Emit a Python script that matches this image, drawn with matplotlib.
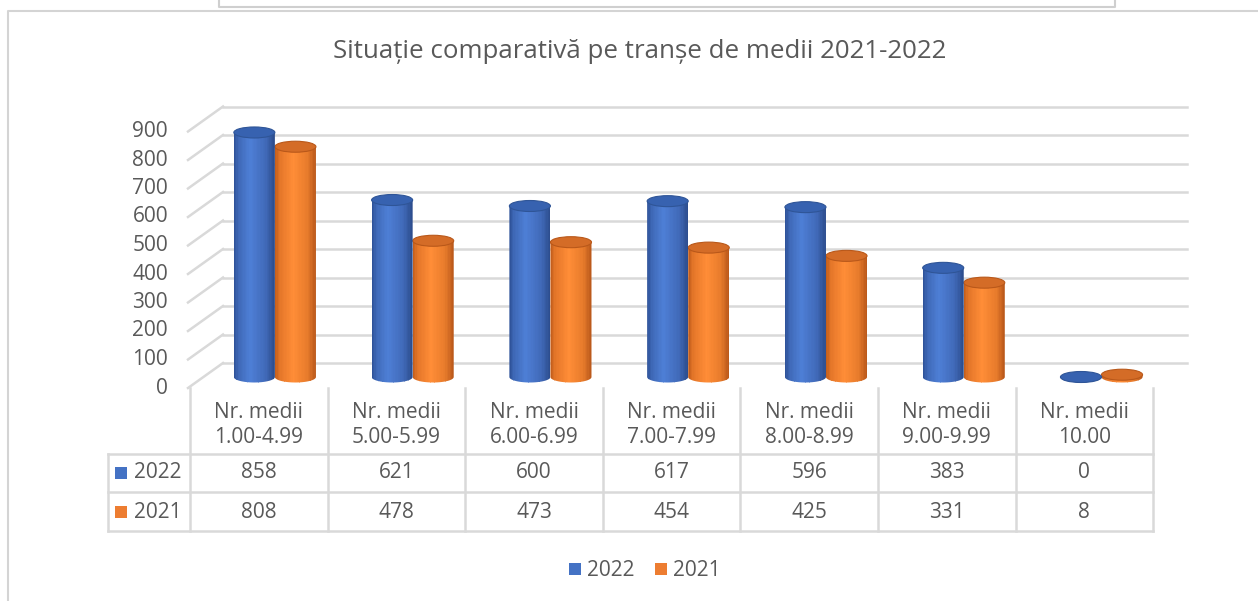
import numpy as np
import matplotlib.pyplot as plt
from matplotlib.patches import Ellipse, Polygon, Rectangle, Patch
from matplotlib.lines import Line2D
from matplotlib.colors import LinearSegmentedColormap

plt.rcParams['font.family'] = ['Open Sans', 'DejaVu Sans']

# --- data ---
categories = ["Nr. medii\n1.00-4.99", "Nr. medii\n5.00-5.99", "Nr. medii\n6.00-6.99",
              "Nr. medii\n7.00-7.99", "Nr. medii\n8.00-8.99", "Nr. medii\n9.00-9.99",
              "Nr. medii\n10.00"]
values_2022 = [858, 621, 600, 617, 596, 383, 0]
values_2021 = [808, 478, 473, 454, 425, 331, 8]
series_names = ["2022", "2021"]
y_ticks = [0, 100, 200, 300, 400, 500, 600, 700, 800, 900]

TXT = "#595959"
GRID = "#D9D9D9"
BLUE = "#4472C4"
ORANGE = "#ED7D31"

W, H = 1258, 601
fig = plt.figure(figsize=(W / 100, H / 100), dpi=100)


def fx(x):
    return x / W


def fy(y):
    return 1 - y / H


# outer frames (screenshot borders)
fig.add_artist(Line2D([fx(8), fx(8), fx(1258)], [fy(601), fy(11), fy(11)], color="#D4D4D4", lw=1.5))
fig.add_artist(Line2D([fx(219), fx(219), fx(1115), fx(1115)], [fy(0), fy(7), fy(7), fy(0)],
                      color="#CFCFCF", lw=1.5))

fig.text(fx(640), fy(51), "Situație comparativă pe tranșe de medii 2021-2022",
         ha="center", va="center", fontsize=18.6, color=TXT)

# --- bar plane axes (category index / value) ---
left_px, right_px, bot_px, top_px = 206, 1170.4, 377, 120.5
ax = fig.add_axes([fx(left_px), fy(bot_px), (right_px - left_px) / W, (bot_px - top_px) / H])
n = len(categories)
ax.set_xlim(-0.5, n - 0.5)
ax.set_ylim(0, 900)
ax.axis("off")
ux = n / (right_px - left_px)
uy = 900 / (bot_px - top_px)

back = (17 * ux, 14 * uy)
front = (-18 * ux, -11 * uy)

# back wall gridlines + side diagonals + tick labels
for v in y_ticks:
    ax.plot([-0.5 + back[0], n - 0.5 + back[0]], [v + back[1]] * 2, color=GRID, lw=1.8,
            clip_on=False, zorder=0)
    ax.plot([-0.5 + front[0], -0.5 + back[0]], [v + front[1], v + back[1]], color=GRID, lw=1.8,
            clip_on=False, zorder=0)
    ax.text(-0.5 + front[0] - 20 * ux, v + front[1], str(v), ha="right", va="center",
            fontsize=15, color=TXT)

blue_cmap = LinearSegmentedColormap.from_list(
    "b", [(0, "#2D5096"), (0.12, "#3F69B8"), (0.4, "#4E7FD6"), (0.78, "#4069B8"), (1, "#2C4C8C")])
orange_cmap = LinearSegmentedColormap.from_list(
    "o", [(0, "#C05C1B"), (0.12, "#E47629"), (0.45, "#FF8D37"), (0.8, "#E77B2B"), (1, "#B8571A")])

w = 0.298
eh = 11 * uy
n_strips = 30


def cylinder(c, v, cmap, top_col, rim_col):
    theta = np.linspace(np.pi, 2 * np.pi, 40)
    arc = np.column_stack([c + w / 2 * np.cos(theta), eh / 2 * np.sin(theta)])
    verts = np.vstack([[[c - w / 2, v]], arc, [[c + w / 2, v]]])
    outline = Polygon(verts, closed=True, transform=ax.transData)
    t = (np.arange(n_strips) + 0.5) / n_strips
    xs = c - w / 2 + t * w
    bars = ax.bar(xs, v + eh / 2, bottom=-eh / 2, width=w / n_strips * 1.1,
                  color=cmap(t), linewidth=0, zorder=2)
    for r in bars:
        r.set_clip_path(outline)
        r.set_clip_box(None)
    ax.add_patch(Ellipse((c, v), w, eh, facecolor=top_col, edgecolor=rim_col, lw=0.8,
                         clip_on=False, zorder=2))


for i in range(n):
    cylinder(i + w / 2, values_2021[i], orange_cmap, "#D46C27", "#B9581A")
    cylinder(i - w / 2, values_2022[i], blue_cmap, "#3762B0", "#2F5597")

# --- data table ---
col_x = [190 + 137.6 * k for k in range(n + 1)]
row_y = [454, 492, 531]
for x in col_x:
    fig.add_artist(Line2D([fx(x), fx(x)], [fy(388), fy(531)], color=GRID, lw=1.8))
fig.add_artist(Line2D([fx(108), fx(108)], [fy(454), fy(531)], color=GRID, lw=1.8))
for y in row_y:
    fig.add_artist(Line2D([fx(108), fx(col_x[-1])], [fy(y), fy(y)], color=GRID, lw=1.8))

for i, cat in enumerate(categories):
    cx = (col_x[i] + col_x[i + 1]) / 2
    fig.text(fx(cx), fy(425), cat, ha="center", va="center", fontsize=15, color=TXT,
             linespacing=1.3)
    fig.text(fx(cx), fy(473), str(values_2022[i]), ha="center", va="center", fontsize=15, color=TXT)
    fig.text(fx(cx), fy(512), str(values_2021[i]), ha="center", va="center", fontsize=15, color=TXT)

for name, col, yc in zip(series_names, [BLUE, ORANGE], [473, 512]):
    fig.add_artist(Rectangle((fx(115), fy(yc + 6)), 12 / W, 12 / H, transform=fig.transFigure,
                             facecolor=col, edgecolor="none"))
    fig.text(fx(134), fy(yc), name, ha="left", va="center", fontsize=15, color=TXT)

# --- legend ---
handles = [Patch(facecolor=BLUE), Patch(facecolor=ORANGE)]
fig.legend(handles, series_names, loc="center", bbox_to_anchor=(fx(645), fy(571)), ncol=2,
           frameon=False, fontsize=15, labelcolor=TXT, handlelength=0.55, handleheight=0.55,
           handletextpad=0.3, columnspacing=1.0)

fig.savefig("out.png", dpi=100)
